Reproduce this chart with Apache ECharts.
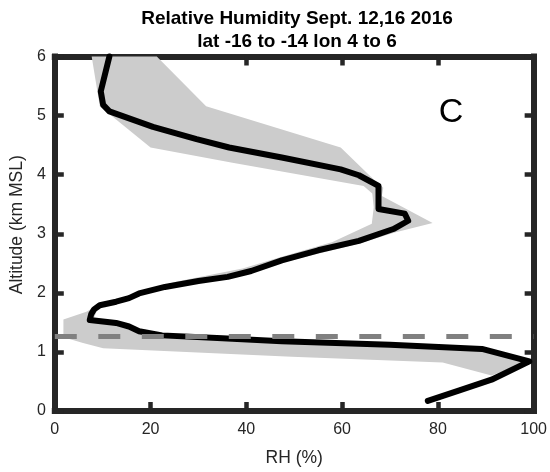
<!DOCTYPE html>
<html>
<head>
<meta charset="utf-8">
<script src="https://cdn.jsdelivr.net/npm/echarts@6/dist/echarts.min.js"></script>
<style>html,body{margin:0;padding:0;background:#fff}#c{width:550px;height:472px}</style>
</head>
<body>
<div id="c"></div>
<script>
// ---- data ----
const titleLines = ['Relative Humidity Sept. 12,16 2016', 'lat -16 to -14 lon 4 to 6'];
const panelLetter = 'C';
const xName = 'RH (%)';
const yName = 'Altitude (km MSL)';
const xMin = 0, xMax = 100, xStep = 20;
const yMin = 0, yMax = 6, yStep = 1;

// mean RH profile (black line)
const lineRH  = [77.9, 84.5, 91.2, 99.1, 89.2, 70, 47.4, 35, 22.4, 17.6, 15.5, 12.8, 7.3, 7.6, 8.2, 9.4, 12.8, 15.5, 17.6, 23, 30, 36.1, 41, 47.4, 55, 63.5, 70.7, 73.8, 73.1, 67.6, 67.6, 63.5, 59.7, 47.4, 36.4, 29.6, 20.5, 11.4, 10.1, 9.6, 11.4];
const lineAlt = [0.17, 0.35, 0.53, 0.84, 1.05, 1.12, 1.18, 1.23, 1.28, 1.35, 1.43, 1.49, 1.54, 1.64, 1.72, 1.79, 1.85, 1.91, 1.99, 2.1, 2.2, 2.27, 2.37, 2.55, 2.72, 2.88, 3.08, 3.22, 3.34, 3.42, 3.81, 3.99, 4.09, 4.29, 4.46, 4.6, 4.81, 5.07, 5.18, 5.41, 6.0];

// range envelope (gray band) outline vertices
const bandRH  = [1.8, 1.8, 6.6, 8.5, 12.8, 17.6, 25.5, 39.2, 47.4, 58, 66.2, 66.6, 66.3, 64.5, 37.1, 20, 9.4, 7.7,
                 21.3, 31.6, 59.7, 66.6, 68.6, 68.3, 78.9, 71, 63.8, 47.4, 39.2, 25.5, 17.6, 12.8, 9.6, 8.8, 8.2, 9.5, 12.8, 15.5, 17.6, 22.4, 47.4, 70, 88.5, 99.1,
                 91.2, 81, 49.5, 10.1, 5.9];
const bandAlt = [1.25, 1.55, 1.68, 1.77, 1.88, 2.02, 2.19, 2.41, 2.61, 2.86, 3.17, 3.45, 3.68, 3.81, 4.2, 4.46, 5.16, 6.0,
                 6.0, 5.16, 4.46, 3.92, 3.78, 3.64, 3.18, 3.02, 2.84, 2.51, 2.33, 2.13, 1.96, 1.82, 1.76, 1.70, 1.58, 1.52, 1.47, 1.41, 1.33, 1.26, 1.16, 1.1, 1.02, 0.84,
                 0.6, 0.82, 0.92, 1.06, 1.15];

// reference level (dashed line)
const refRH  = [0, 100];
const refAlt = [1.26, 1.26];

// ---- chart ----
const FONT = '"Liberation Sans", Arial, Helvetica, sans-serif';
const AX = '#262626';
const chart = echarts.init(document.getElementById('c'), null, {renderer: 'canvas'});

const axisCommon = (show) => ({
  axisLine: {show: true, onZero: false, lineStyle: {color: AX, width: 6, cap: 'square'}},
  axisTick: {show: true, inside: true, length: 9, lineStyle: {color: AX, width: 4.5}},
  splitLine: {show: false},
  axisLabel: {show: show, color: AX, fontSize: 16, fontFamily: FONT}
});

const option = {
  animation: false,
  backgroundColor: '#fff',
  title: {
    text: titleLines.join('\n'),
    left: 292, top: 2, textAlign: 'center',
    textStyle: {fontSize: 19, fontWeight: 'bold', color: '#000', fontFamily: FONT, lineHeight: 23}
  },
  grid: {left: 50, right: 15.5, top: 56.5, bottom: 59.5, containLabel: false},
  xAxis: [
    Object.assign({type: 'value', position: 'bottom', min: xMin, max: xMax, interval: xStep,
      name: xName, nameLocation: 'middle', nameGap: 38,
      nameTextStyle: {color: AX, fontSize: 17.5, fontFamily: FONT}}, axisCommon(true),
      {axisLabel: {show: true, color: AX, fontSize: 16, fontFamily: FONT, margin: 11}}),
    Object.assign({type: 'value', position: 'top', min: xMin, max: xMax, interval: xStep}, axisCommon(false))
  ],
  yAxis: [
    Object.assign({type: 'value', position: 'left', min: yMin, max: yMax, interval: yStep,
      name: yName, nameLocation: 'middle', nameGap: 24,
      nameTextStyle: {color: AX, fontSize: 17.5, fontFamily: FONT, padding: [0, 0, 0, 18]}}, axisCommon(true),
      {axisLabel: {show: true, color: AX, fontSize: 16, fontFamily: FONT, margin: 9}}),
    Object.assign({type: 'value', position: 'right', min: yMin, max: yMax, interval: yStep}, axisCommon(false))
  ],
  graphic: [{
    type: 'text', x: 451, y: 113,
    style: {text: panelLetter, fill: '#000', fontSize: 34, fontFamily: FONT, align: 'center', verticalAlign: 'middle'}
  }],
  series: [
    {
      type: 'custom', xAxisIndex: 0, yAxisIndex: 0, silent: true, z: 1,
      data: [[bandRH[0], bandAlt[0]]],
      encode: {x: 0, y: 1},
      renderItem: function (params, api) {
        const pts = bandRH.map((r, i) => api.coord([r, bandAlt[i]]));
        return {type: 'polygon', shape: {points: pts}, style: {fill: '#cccccc', stroke: null}};
      }
    },
    {
      type: 'line', xAxisIndex: 0, yAxisIndex: 0, z: 3, clip: false,
      data: lineRH.map((r, i) => [r, lineAlt[i]]),
      showSymbol: false, symbol: 'none', smooth: false,
      lineStyle: {color: '#000', width: 6, cap: 'round', join: 'round'}
    },
    {
      type: 'line', xAxisIndex: 0, yAxisIndex: 0, z: 4,
      data: refRH.map((r, i) => [r, refAlt[i]]),
      showSymbol: false, symbol: 'none',
      lineStyle: {color: '#808080', width: 5, type: [22, 21.5], cap: 'butt'}
    }
  ]
};
chart.setOption(option);
</script>
</body>
</html>
